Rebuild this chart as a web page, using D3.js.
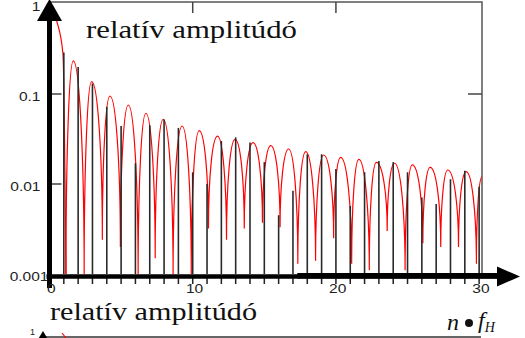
<!DOCTYPE html>
<html>
<head>
<meta charset="utf-8">
<script src="https://cdn.jsdelivr.net/npm/d3@7"></script>
<style>
  body { margin: 0; background: #ffffff; }
  svg { display: block; }
</style>
</head>
<body>
<div id="chart"></div>
<script>
// spectral lines: harmonic number and relative amplitude
const harmonics = [1, 2, 3, 4, 5, 6, 7, 8, 9, 10, 11, 12, 13, 14, 15,
  16, 17, 18, 19, 20, 21, 22, 23, 24, 25, 26, 27, 28, 29, 30];
const lineAmps = [0.29, 0.2, 0.131, 0.072, 0.044, 0.017, 0.045, 0.052, 0.042, 0.0135,
  0.01, 0.03, 0.033, 0.029, 0.0175, 0.0045, 0.0084, 0.0214, 0.0214, 0.0147,
  0.0057, 0.0135, 0.018, 0.0175, 0.0135, 0.0071, 0.006, 0.0113, 0.014, 0.0093];

// red envelope: main lobe, then the zeros (dips) and the side-lobe peaks
const mainLobeX = [0, 0.5, 0.94];
const mainLobeY = [1, 0.65, 0.28];
const zeroX = [1.15, 2.42, 3.69, 4.95, 6.19, 7.38, 8.63, 9.9, 11.1, 12.36, 13.6, 14.87,
  16.1, 17.34, 18.58, 19.84, 21.1, 22.33, 23.58, 24.83, 26.07, 27.32, 28.56, 29.81];
const zeroY = [0.001, 0.001, 0.0024, 0.002, 0.001, 0.0015, 0.001, 0.001, 0.0032, 0.0024,
  0.0032, 0.0037, 0.0033, 0.0013, 0.0014, 0.0025, 0.0013, 0.0011, 0.003, 0.0011,
  0.0022, 0.002, 0.002, 0.0013];
const peakX = [1.66, 2.94, 4.22, 5.5, 6.73, 7.94, 9.26, 10.45, 11.73, 12.96, 14.21, 15.45,
  16.7, 17.89, 19.14, 20.33, 21.6, 22.82, 24.09, 25.33, 26.58, 27.81, 29.09];
const peakY = [0.233, 0.137, 0.095, 0.0755, 0.0611, 0.0524, 0.0441, 0.0391, 0.0341, 0.0314,
  0.0288, 0.0267, 0.0245, 0.0229, 0.021, 0.0198, 0.0188, 0.0174, 0.017, 0.0163,
  0.0153, 0.0143, 0.0137];
const endX = 30.2;
const endY = 0.012;

const yTicks = [1, 0.1, 0.01, 0.001];
const yTickLabels = ['1', '0.1', '0.01', '0.001'];
const xTicks = [0, 10, 20, 30];
const title = 'relatív amplitúdó';

const drawSpectrum = () => {
  const totalWidth = 525;
  const totalHeight = 338;

  const xScale = d3.scaleLinear().domain([0, endX]).range([49.5, 482]);
  const yScale = d3.scaleLog().domain([0.001, 1]).range([274, 4]);

  const x0 = xScale(0);
  const xr = xScale(endX);
  const yb = yScale(0.001);
  const frameTop = 2;

  const svg = d3
    .select('#chart')
    .append('svg')
    .attr('width', totalWidth)
    .attr('height', totalHeight)
    .attr('viewBox', `0 0 ${totalWidth} ${totalHeight}`);

  // frame (top and right)
  svg.append('path')
    .attr('d', `M${x0},${frameTop}H${xr}V${yb}`)
    .attr('fill', 'none')
    .attr('stroke', '#555')
    .attr('stroke-width', 1.5);

  // inner ticks
  const tickColor = '#444';
  [0.1, 0.01].forEach((v) => {
    svg.append('line')
      .attr('x1', x0 + 2).attr('x2', x0 + 12)
      .attr('y1', yScale(v)).attr('y2', yScale(v))
      .attr('stroke', tickColor).attr('stroke-width', 1.5);
  });
  svg.append('line')
    .attr('x1', xr - 14).attr('x2', xr)
    .attr('y1', yScale(0.1)).attr('y2', yScale(0.1))
    .attr('stroke', tickColor).attr('stroke-width', 1.5);
  [10, 20].forEach((v) => {
    svg.append('line')
      .attr('x1', xScale(v)).attr('x2', xScale(v))
      .attr('y1', frameTop).attr('y2', frameTop + 11)
      .attr('stroke', tickColor).attr('stroke-width', 1.5);
  });

  // red envelope: main lobe
  const mainPts = mainLobeX.map((x, i) => [xScale(x), yScale(mainLobeY[i])]);
  mainPts.push([xScale(zeroX[0]), yScale(zeroY[0])]);
  svg.append('path')
    .attr('d', d3.line().curve(d3.curveMonotoneX)(mainPts))
    .attr('fill', 'none')
    .attr('stroke', '#ff0000')
    .attr('stroke-width', 1.2);

  // red envelope: side lobes as rounded arches between the dips
  const k = 0.5523;
  const lobes = d3.path();
  zeroX.forEach((zx, i) => {
    const ax = xScale(zx);
    const ay = yScale(zeroY[i]);
    if (i === 0) lobes.moveTo(ax, ay);
    const last = i >= peakX.length;
    const bx = xScale(last ? endX : peakX[i]);
    const by = yScale(last ? endY : peakY[i]);
    lobes.bezierCurveTo(ax, ay + (by - ay) * k, bx - (bx - ax) * k, by, bx, by);
    if (!last) {
      const cx = xScale(zeroX[i + 1]);
      const cy = yScale(zeroY[i + 1]);
      lobes.bezierCurveTo(bx + (cx - bx) * k, by, cx, cy + (by - cy) * k, cx, cy);
    }
  });
  svg.append('path')
    .attr('d', lobes.toString())
    .attr('fill', 'none')
    .attr('stroke', '#ff0000')
    .attr('stroke-width', 1.2);

  // spectral lines
  svg.selectAll('line.harm')
    .data(harmonics)
    .join('line')
    .attr('class', 'harm')
    .attr('x1', (d) => xScale(d))
    .attr('x2', (d) => xScale(d))
    .attr('y1', yb)
    .attr('y2', (d, i) => yScale(lineAmps[i]))
    .attr('stroke', '#2a2a2a')
    .attr('stroke-width', 1.6);

  // bottom axis ticks
  svg.selectAll('line.minor')
    .data([0].concat(harmonics))
    .join('line')
    .attr('class', 'minor')
    .attr('x1', (d) => xScale(d))
    .attr('x2', (d) => xScale(d))
    .attr('y1', yb + 2)
    .attr('y2', yb + 10)
    .attr('stroke', '#222')
    .attr('stroke-width', 1.5);

  // bottom axis with arrow
  const axisY = yb + 2.5;
  svg.append('line')
    .attr('x1', x0 - 3).attr('x2', 499)
    .attr('y1', axisY).attr('y2', axisY)
    .attr('stroke', '#000').attr('stroke-width', 4.5);
  svg.append('line')
    .attr('x1', xScale(17.3)).attr('x2', 499)
    .attr('y1', axisY - 0.8).attr('y2', axisY - 0.8)
    .attr('stroke', '#000').attr('stroke-width', 5.5);
  svg.append('path')
    .attr('d', `M497,${axisY - 10}L520,${axisY}L497,${axisY + 10}Z`)
    .attr('fill', '#000');

  // left axis with arrow
  svg.append('line')
    .attr('x1', x0).attr('x2', x0)
    .attr('y1', 288).attr('y2', 18)
    .attr('stroke', '#000').attr('stroke-width', 5);
  svg.append('path')
    .attr('d', `M${x0},-1L${x0 + 12.5},21L${x0 - 12.5},21Z`)
    .attr('fill', '#000');

  // y labels
  const labelFont = "'Liberation Sans', Arial, sans-serif";
  yTicks.forEach((v, i) => {
    const right = v === 0.001 ? x0 - 1 : x0 - 9;
    svg.append('text')
      .attr('transform', `translate(${right},${yScale(v) + 2.5}) scale(1.15,1)`)
      .attr('text-anchor', 'end')
      .attr('dominant-baseline', 'central')
      .attr('font-family', labelFont)
      .attr('font-size', 13.5)
      .attr('fill', '#222')
      .text(yTickLabels[i]);
  });

  // x labels
  xTicks.forEach((v) => {
    svg.append('text')
      .attr('transform', `translate(${xScale(v) + 1.8},${yb + 14.5}) scale(1.15,1)`)
      .attr('text-anchor', 'middle')
      .attr('dominant-baseline', 'central')
      .attr('font-family', labelFont)
      .attr('font-size', 13.5)
      .attr('fill', '#222')
      .text(v);
  });

  // title inside the plot
  const serif = "'Liberation Serif', 'Times New Roman', serif";
  svg.append('text')
    .attr('x', 86).attr('y', 38)
    .attr('font-family', serif)
    .attr('font-size', 26)
    .attr('textLength', 211)
    .attr('lengthAdjust', 'spacingAndGlyphs')
    .attr('fill', '#111')
    .text(title);

  // x axis name
  svg.append('text')
    .attr('x', 447).attr('y', 330)
    .attr('font-family', serif)
    .attr('font-size', 24)
    .attr('font-style', 'italic')
    .attr('fill', '#111')
    .text('n');
  svg.append('circle')
    .attr('cx', 469).attr('cy', 323).attr('r', 4)
    .attr('fill', '#111');
  const fName = svg.append('text')
    .attr('x', 478).attr('y', 328)
    .attr('font-family', serif)
    .attr('font-style', 'italic')
    .attr('fill', '#111');
  fName.append('tspan').attr('font-size', 24).text('f');
  fName.append('tspan').attr('font-size', 14).attr('dy', 4).text('H');

  // top of the next figure, cut off by the picture edge
  svg.append('text')
    .attr('x', 50).attr('y', 320)
    .attr('font-family', serif)
    .attr('font-size', 26)
    .attr('textLength', 207)
    .attr('lengthAdjust', 'spacingAndGlyphs')
    .attr('fill', '#111')
    .text(title);
  svg.append('line')
    .attr('x1', 46).attr('x2', 481)
    .attr('y1', 337).attr('y2', 337)
    .attr('stroke', '#333').attr('stroke-width', 1.5);
  svg.append('path')
    .attr('d', 'M43,331L49,341L37,341Z')
    .attr('fill', '#000');
  svg.append('line')
    .attr('x1', 62).attr('x2', 66)
    .attr('y1', 333).attr('y2', 338)
    .attr('stroke', '#ff0000').attr('stroke-width', 1.2);
  svg.append('text')
    .attr('x', 35).attr('y', 335)
    .attr('text-anchor', 'end')
    .attr('font-family', labelFont)
    .attr('font-size', 9)
    .attr('fill', '#222')
    .text('1');
};

drawSpectrum();
</script>
</body>
</html>
